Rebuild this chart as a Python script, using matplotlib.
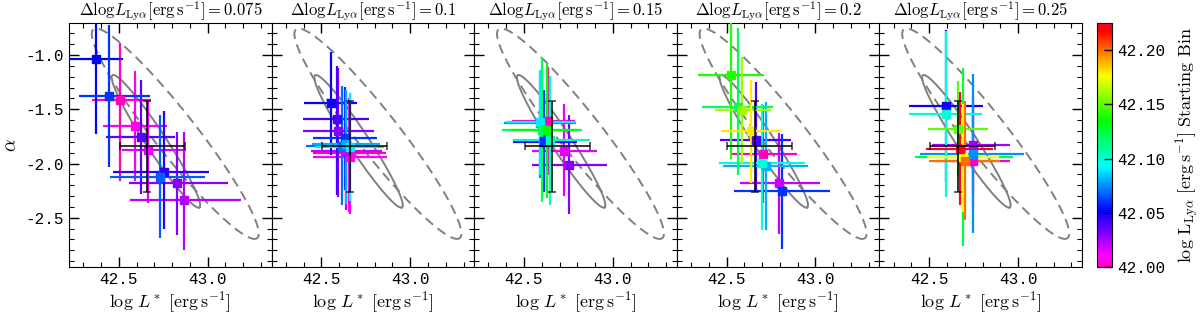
import numpy as np
import matplotlib
matplotlib.use("Agg")
import matplotlib.pyplot as plt
from matplotlib.colors import Normalize
from matplotlib.ticker import MultipleLocator, FormatStrFormatter
from matplotlib.cm import ScalarMappable

plt.rcParams['mathtext.fontset'] = 'cm'
plt.rcParams['font.family'] = ['Liberation Mono', 'DejaVu Sans Mono']

# ---------------- data ----------------
panel_titles = ["0.075", "0.1", "0.15", "0.2", "0.25"]

# starting bins (colour values) per panel
bins_p1 = [42.0, 42.0075, 42.015, 42.0225, 42.03, 42.0375, 42.045, 42.0525, 42.06, 42.0675]
bins_p2 = [42.00, 42.01, 42.02, 42.03, 42.04, 42.05, 42.06, 42.07, 42.08, 42.09]
bins_p3 = [42.000, 42.015, 42.030, 42.045, 42.060, 42.075, 42.090, 42.105, 42.120, 42.135]
bins_p4 = [42.00, 42.02, 42.04, 42.06, 42.08, 42.10, 42.12, 42.14, 42.16, 42.18]
bins_p5 = [42.000, 42.025, 42.050, 42.075, 42.100, 42.125, 42.150, 42.175, 42.200, 42.225]

# log L* best fits
logL_p1 = [42.509, 42.589, 42.667, 42.865, 42.826, 42.626, 42.756, 42.372, 42.446, 42.733]
logL_p2 = [42.655, 42.662, 42.640, 42.596, 42.587, 42.555, 42.634, 42.615, 42.640, 42.662]
logL_p3 = [42.635, 42.723, 42.756, 42.610, 42.610, 42.590, 42.591, 42.648, 42.601, 42.629]
logL_p4 = [42.704, 42.795, 42.663, 42.812, 42.719, 42.699, 42.563, 42.526, 42.589, 42.637]
logL_p5 = [42.746, 42.746, 42.594, 42.746, 42.594, 42.690, 42.662, 42.690, 42.699, 42.671]

# alpha best fits
alpha_p1 = [-1.411, -1.658, -1.873, -2.337, -2.183, -1.757, -2.081, -1.037, -1.380, -2.127]
alpha_p2 = [-1.900, -1.942, -1.880, -1.701, -1.590, -1.442, -1.766, -1.834, -1.820, -1.849]
alpha_p3 = [-1.608, -1.880, -2.012, -1.800, -1.794, -1.630, -1.618, -1.787, -1.688, -1.695]
alpha_p4 = [-1.911, -2.183, -1.787, -2.257, -2.019, -1.997, -1.479, -1.185, -1.503, -1.704]
alpha_p5 = [-1.973, -1.827, -1.473, -1.911, -1.540, -1.940, -1.683, -1.940, -1.973, -1.864]

# log L* errors (lower, upper)
logL_lo_p1 = [0.16, 0.18, 0.15, 0.30, 0.27, 0.20, 0.29, 0.15, 0.168, 0.28]
logL_hi_p1 = [0.17, 0.18, 0.21, 0.32, 0.29, 0.19, 0.25, 0.151, 0.23, 0.25]
logL_lo_p2 = [0.20, 0.21, 0.20, 0.20, 0.19, 0.152, 0.18, 0.20, 0.19, 0.20]
logL_hi_p2 = [0.21, 0.21, 0.20, 0.20, 0.18, 0.148, 0.18, 0.21, 0.19, 0.19]
logL_lo_p3 = [0.20, 0.18, 0.21, 0.17, 0.17, 0.20, 0.19, 0.21, 0.226, 0.20]
logL_hi_p3 = [0.15, 0.19, 0.21, 0.19, 0.19, 0.20, 0.20, 0.225, 0.225, 0.17]
logL_lo_p4 = [0.175, 0.22, 0.20, 0.27, 0.24, 0.24, 0.20, 0.185, 0.155, 0.17]
logL_hi_p4 = [0.19, 0.23, 0.20, 0.27, 0.24, 0.24, 0.20, 0.186, 0.16, 0.17]
logL_lo_p5 = [0.21, 0.23, 0.205, 0.30, 0.205, 0.27, 0.166, 0.20, 0.20, 0.19]
logL_hi_p5 = [0.21, 0.21, 0.206, 0.29, 0.205, 0.28, 0.167, 0.20, 0.20, 0.19]

# alpha errors (lower, upper)
alpha_lo_p1 = [0.747, 0.50, 0.49, 0.46, 0.48, 0.52, 0.52, 0.69, 0.654, 0.56]
alpha_hi_p1 = [0.525, 0.51, 0.45, 0.63, 0.47, 0.525, 0.57, 0.69, 0.66, 0.57]
alpha_lo_p2 = [0.55, 0.52, 0.55, 0.61, 0.70, 0.48, 0.48, 0.55, 0.55, 0.50]
alpha_hi_p2 = [0.50, 0.59, 0.55, 0.58, 0.49, 0.47, 0.47, 0.55, 0.50, 0.50]
alpha_lo_p3 = [0.50, 0.42, 0.45, 0.45, 0.47, 0.50, 0.49, 0.60, 0.67, 0.62]
alpha_hi_p3 = [0.50, 0.43, 0.46, 0.45, 0.47, 0.48, 0.48, 0.59, 0.67, 0.62]
alpha_lo_p4 = [0.45, 0.47, 0.46, 0.53, 0.59, 0.62, 0.63, 0.77, 0.49, 0.48]
alpha_hi_p4 = [0.45, 0.46, 0.54, 0.53, 0.59, 0.55, 0.73, 0.77, 0.49, 0.47]
alpha_lo_p5 = [0.45, 0.45, 0.70, 0.73, 0.77, 0.82, 0.44, 0.51, 0.55, 0.52]
alpha_hi_p5 = [0.45, 0.45, 0.70, 0.74, 0.76, 0.82, 0.44, 0.49, 0.55, 0.52]

# reference (full-sample) fit shown in black
ref_logL = 42.66
ref_logL_err = (0.155, 0.21)
ref_alpha = -1.84
ref_alpha_err = (0.42, 0.42)

# confidence contours: centre, half-major vector, half-minor vector (data units)
contour_centres = [(42.818, -1.725), (42.709, -1.795)]
contour_major = [(0.4605, -0.963), (0.2445, -0.6097)]
contour_minor = [(-0.0930, -0.1200), (-0.0471, -0.0509)]
contour_styles = ['--', '-']

cbar_ticks = [42.00, 42.05, 42.10, 42.15, 42.20]
cbar_range = (42.0, 42.225)

panels = [
    (bins_p1, logL_p1, alpha_p1, logL_lo_p1, logL_hi_p1, alpha_lo_p1, alpha_hi_p1),
    (bins_p2, logL_p2, alpha_p2, logL_lo_p2, logL_hi_p2, alpha_lo_p2, alpha_hi_p2),
    (bins_p3, logL_p3, alpha_p3, logL_lo_p3, logL_hi_p3, alpha_lo_p3, alpha_hi_p3),
    (bins_p4, logL_p4, alpha_p4, logL_lo_p4, logL_hi_p4, alpha_lo_p4, alpha_hi_p4),
    (bins_p5, logL_p5, alpha_p5, logL_lo_p5, logL_hi_p5, alpha_lo_p5, alpha_hi_p5),
]

# ---------------- figure ----------------
fig = plt.figure(figsize=(12, 3.21), dpi=100)
left, right = 0.0575, 0.9017
bottom, top = 0.168, 0.928
pw = (right - left) / 5
cmap = plt.get_cmap('gist_rainbow_r')
norm = Normalize(vmin=cbar_range[0], vmax=cbar_range[1])

t = np.linspace(0, 2 * np.pi, 300)
axes = []
for k, (bins, xs, ys, xlo, xhi, ylo, yhi) in enumerate(panels):
    ax = fig.add_axes([left + k * pw, bottom, pw, top - bottom])
    axes.append(ax)
    # contours
    for c, M, m, ls in zip(contour_centres, contour_major, contour_minor, contour_styles):
        ex = c[0] + np.cos(t) * M[0] + np.sin(t) * m[0]
        ey = c[1] + np.cos(t) * M[1] + np.sin(t) * m[1]
        if ls == '--':
            ax.plot(ex, ey, color='gray', lw=1.4, zorder=1, dashes=(5, 3))
        else:
            ax.plot(ex, ey, color='gray', lw=1.4, zorder=1)
    for b, x, y, a, bb, c_, d in zip(bins, xs, ys, xlo, xhi, ylo, yhi):
        col = cmap(norm(b))
        ax.errorbar([x], [y], xerr=[[a], [bb]], yerr=[[c_], [d]], fmt='s',
                    color=col, ms=6, mec=col, elinewidth=1.6, capsize=0, zorder=3)
    ax.errorbar([ref_logL], [ref_alpha], xerr=[[ref_logL_err[0]], [ref_logL_err[1]]],
                yerr=[[ref_alpha_err[0]], [ref_alpha_err[1]]], fmt='none',
                ecolor='k', alpha=0.8, elinewidth=1.4, capsize=3, capthick=1.1, zorder=5)
    ax.set_xlim(42.22, 43.36)
    ax.set_ylim(-2.955, -0.705)
    ax.xaxis.set_major_locator(MultipleLocator(0.5))
    ax.xaxis.set_minor_locator(MultipleLocator(0.1))
    ax.yaxis.set_major_locator(MultipleLocator(0.5))
    ax.yaxis.set_minor_locator(MultipleLocator(0.1))
    ax.xaxis.set_major_formatter(FormatStrFormatter('%.1f'))
    ax.yaxis.set_major_formatter(FormatStrFormatter('%.1f'))
    ax.tick_params(which='both', direction='in', top=True, right=True, labelsize=11.5)
    ax.tick_params(which='major', length=7, width=1)
    ax.tick_params(which='minor', length=3.5, width=0.8)
    if k > 0:
        ax.tick_params(labelleft=False)
    else:
        ax.set_ylabel(r'$\alpha$', fontsize=14)
    ax.set_xlabel(r'$\log\,L^*\ [{\rm erg\,s^{-1}}]$', fontsize=13, labelpad=2)
    ax.set_title(r'$\Delta{\rm log}L_{\rm Ly\alpha}[{\rm erg\,s^{-1}}] = ' + panel_titles[k] + '$',
                 fontsize=12, pad=3)

cax = fig.add_axes([0.9145, bottom, 0.0125, top - bottom])
sm = ScalarMappable(norm=norm, cmap=cmap)
cb = fig.colorbar(sm, cax=cax, ticks=cbar_ticks)
cb.ax.yaxis.set_major_formatter(FormatStrFormatter('%.2f'))
cb.ax.tick_params(direction='in', length=6, width=1, labelsize=11.5, color='k')
cb.set_label(r'$\log\,{\rm L_{Ly\alpha}}\ [{\rm erg\,s^{-1}}]\ {\rm Starting\ Bin}$',
             fontsize=13, labelpad=6)

fig.savefig('out.png', dpi=100)
